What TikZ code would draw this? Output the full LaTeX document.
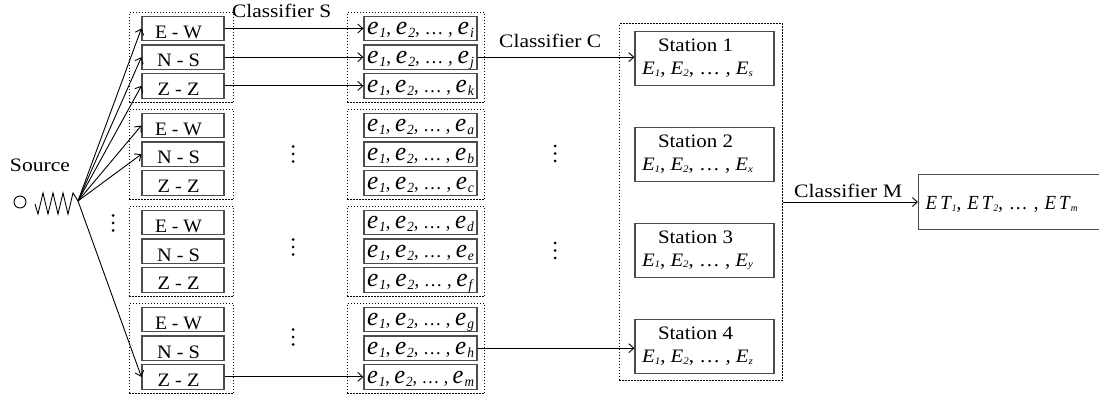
\documentclass[tikz,border=0pt]{standalone}
\usepackage{fontspec}
\usepackage{graphicx}
\setmainfont{Liberation Serif}
\usetikzlibrary{arrows.meta,fit,calc}

% set a text at a given width, keeping its natural height
\newcommand{\wbox}[2]{\resizebox{#1}{\height}{#2}}
% italic index set just below the baseline
\newcommand{\idx}[3]{\raisebox{-#2}{\fontsize{#1}{#1}\selectfont\textit{#3}}}
% event list inside a component box: e_1, e_2, ..., e_#1
\newcommand{\ev}{{\fontsize{26}{26}\selectfont\textit{e}}}
\newcommand{\elist}[1]{\wbox{107pt}{\ev\kern1pt\idx{14}{3pt}{1}, \ev\kern1pt\idx{14}{3pt}{2}, …\ , \ev\kern1pt\idx{14}{3pt}{#1}}}
% station event list: E_1, E_2, ..., E_#1
\newcommand{\Elist}[1]{\wbox{111pt}{\textit{E}\idx{10}{1.5pt}{1}, \textit{E}\idx{10}{1.5pt}{2}, …\ , \textit{E}\idx{10}{1.5pt}{#1}}}
% three dots stacked vertically
\newcommand{\vdotsat}[2]{%
  \foreach \k in {-1,0,1} {\fill (#1,{#2+7.5*\k}) circle (1.5);}}

\tikzset{
  base/.style={font=\fontsize{19}{22.7}\selectfont},
  lbox/.style={base, draw=black!70, line width=1.2pt, minimum width=82pt,
    minimum height=24.5pt, inner sep=0pt, text height=19.6pt, text depth=0pt},
  ebox/.style={lbox, minimum width=113pt, text height=12.6pt},
  sbox/.style={base, draw=black!70, line width=1.2pt, minimum width=139pt,
    minimum height=54.5pt, inner sep=0pt, align=center},
  grp/.style={draw, line width=1pt, dash pattern=on 1.3pt off 1.7pt, inner sep=0pt},
  arr/.style={line width=0.9pt, -{Straight Barb[length=5pt,width=9pt]}},
  lbl/.style={base, inner sep=0pt, anchor=base west},
}

\begin{document}
\begin{tikzpicture}[x=1pt,y=-1pt]
\useasboundingbox (0,0) rectangle (1099,395);
\clip (0,0) rectangle (1099,395);

% component boxes and their event lists
\foreach \g/\sa/\sb/\sc in {0/i/j/k,1/a/b/c,2/d/e/f,3/g/h/m} {
  \foreach \r/\lab/\w/\s in {0/E - W/47pt/\sa,1/N - S/43pt/\sb,2/Z - Z/42pt/\sc} {
    \pgfmathsetmacro\yy{28.5+97*\g+28.7*\r}
    \node[lbox] (L\g\r) at (183,\yy) {\wbox{\w}{\lab}\hspace*{9pt}};
    \node[ebox] (M\g\r) at (420.5,\yy) {\elist{\s}};
  }
  \coordinate (la\g) at ($(L\g0.north west)+(-12,-3)$);
  \coordinate (lb\g) at ($(L\g2.south east)+(9,4)$);
  \node[grp, fit=(la\g)(lb\g)] (GL\g) {};
  \coordinate (ma\g) at ($(M\g0.north west)+(-16,-3)$);
  \coordinate (mb\g) at ($(M\g2.south east)+(7,4)$);
  \node[grp, fit=(ma\g)(mb\g)] (GM\g) {};
}

% stations
\foreach \n/\y/\s in {1/58.5/s,2/154.5/x,3/250.5/y,4/346.5/z}
  \node[sbox] (S\n) at (704.5,\y)
    {\wbox{75pt}{Station \n}\hspace*{18pt}\\\Elist{\s}\hspace*{14pt}};
\coordinate (sa) at ($(S1.north west)+(-15,-7)$);
\coordinate (sb) at ($(S4.south east)+(8,6)$);
\node[grp, fit=(sa)(sb)] (GS) {};

% final result
\node[lbox, anchor=west, minimum width=200pt, minimum height=54.5pt,
  text height=16pt, text width=186pt, align=left, inner xsep=7pt] (F) at (918,202)
  {\wbox{152pt}{\fontsize{20}{20}\selectfont\textit{E\,T}\idx{10}{1.5pt}{1}, \textit{E\,T}\idx{10}{1.5pt}{2}, …\ , \textit{E\,T}\idx{10}{1.5pt}{m}}};

% source
\node[base, inner sep=0pt, anchor=base] (src-lbl) at (40,172) {\wbox{60pt}{Source}};
\node[draw, circle, line width=0.9pt, minimum size=12pt, inner sep=0pt] (C) at (20,202) {};
\coordinate (src) at (78,201);
\draw[line width=0.9pt, line join=miter] (35,204) -- (38,214) -- (43,193) -- (48,214) -- (53,193)
  -- (58,214) -- (63,193) -- (68,214) -- (73,193) -- (src);

% source to components
\foreach \t in {L00,L01,L02,L10,L11,L32}
  \draw[arr] (src) -- (\t.west);

% classifier S
\draw[arr] (L00.east) -- (M00.west);
\draw[arr] (L01.east) -- (M01.west);
\draw[arr] (L02.east) -- (M02.west);
\draw[arr] (L32.east) -- (M32.west);
\node[lbl] (cS) at (232,18) {\wbox{99pt}{Classifier S}};

% classifier C
\draw[arr] (M01.east) -- (M01.east -| S1.west);
\draw[arr] (M31.east) -- (M31.east -| S4.west);
\node[lbl] (cC) at (499,48) {\wbox{102pt}{Classifier C}};

% classifier M
\draw[arr] (GS.east |- F.west) -- (F.west);
\node[lbl] (cM) at (794,198) {\wbox{108pt}{Classifier M}};

% omitted items
\vdotsat{113}{223}
\vdotsat{293}{154}
\vdotsat{293}{247}
\vdotsat{293}{337}
\vdotsat{555}{153.5}
\vdotsat{555}{250.5}
\end{tikzpicture}
\end{document}
